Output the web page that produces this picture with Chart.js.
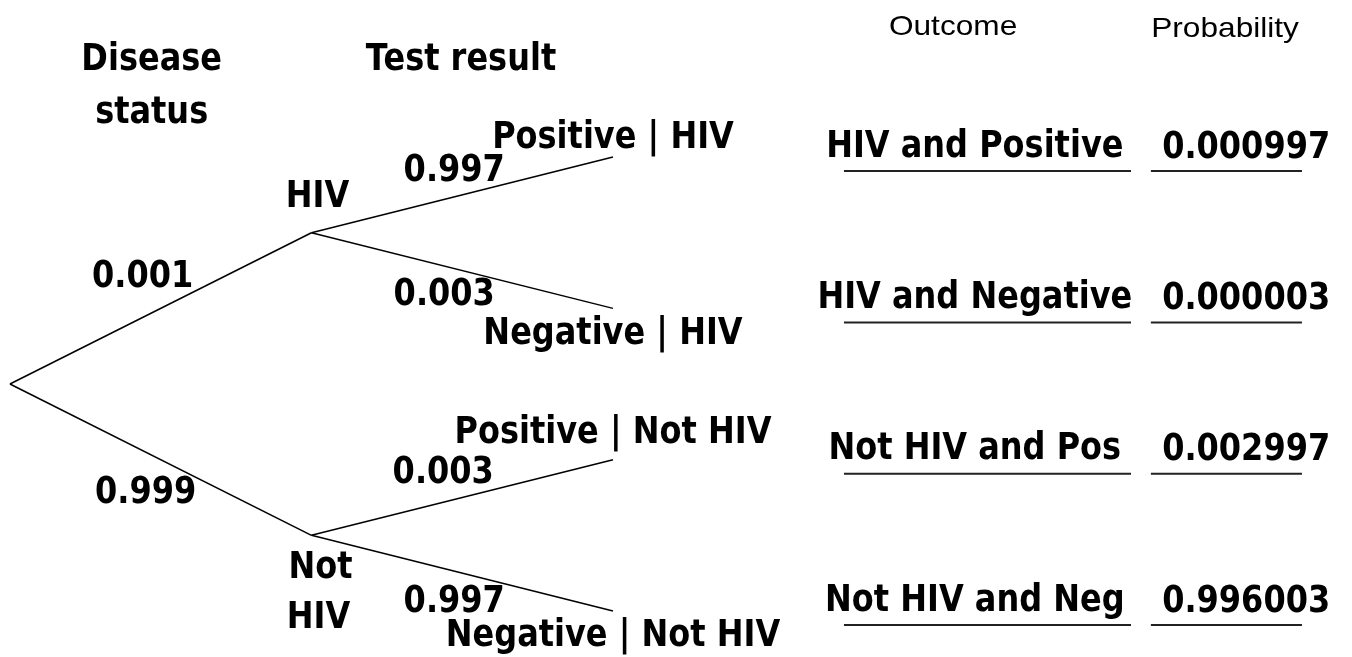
<!DOCTYPE html>
<html>
<head>
<meta charset="utf-8">
<script src="https://cdn.jsdelivr.net/npm/chart.js@4.4.0/dist/chart.umd.min.js"></script>
<style>
  html, body { margin: 0; padding: 0; background: #fff; }
  #wrap { width: 1352px; height: 657px; }
</style>
</head>
<body>
<div id="wrap"><canvas id="tree"></canvas></div>
<script>
// Data pohon probabilitas
const diseaseLabels = ['HIV', 'Not HIV'];
const diseaseProbs = ['0.001', '0.999'];
const testLabels = ['Positive | HIV', 'Negative | HIV', 'Positive | Not HIV', 'Negative | Not HIV'];
const testProbs = ['0.997', '0.003', '0.003', '0.997'];
const outcomeLabels = ['HIV and Positive', 'HIV and Negative', 'Not HIV and Pos', 'Not HIV and Neg'];
const jointProbs = ['0.000997', '0.000003', '0.002997', '0.996003'];

// Posisi node: x = kedalaman, y = indeks daun (rata-rata anak untuk node dalam)
const leafY = testLabels.map((_, i) => i);
const diseaseY = diseaseLabels.map((_, j) => (leafY[2 * j] + leafY[2 * j + 1]) / 2);
const rootY = (diseaseY[0] + diseaseY[1]) / 2;

const FONT = "'DejaVu Sans', sans-serif";
const HEAD_FONT = "'Liberation Sans', Arial, sans-serif";
const SIZE = 32;

function edge(x0, y0, x1, y1) {
    return {
        data: [{ x: x0, y: y0 }, { x: x1, y: y1 }],
        showLine: true,
        borderColor: '#000',
        borderWidth: 1.5,
        pointRadius: 0,
        fill: false
    };
}

const datasets = [];
diseaseY.forEach((y, j) => {
    datasets.push(edge(0, rootY, 1, y));
    datasets.push(edge(1, y, 2, leafY[2 * j]));
    datasets.push(edge(1, y, 2, leafY[2 * j + 1]));
});

// Teks dengan regangan (meniru huruf aslinya yang lebih tinggi)
function text(ctx, str, x, y, opts) {
    opts = opts || {};
    ctx.save();
    ctx.font = (opts.weight || 'bold') + ' ' + (opts.size || SIZE) + 'px ' + (opts.family || FONT);
    ctx.textAlign = 'center';
    ctx.textBaseline = 'middle';
    ctx.translate(x, y);
    ctx.scale(opts.sx || 1, opts.sy || 1.15);
    ctx.fillText(str, 0, 0);
    ctx.restore();
}

const labelPlugin = {
    id: 'treeLabels',
    afterDatasetsDraw(chart) {
        const ctx = chart.ctx;
        const xs = chart.scales.x, ys = chart.scales.y;
        const px = v => xs.getPixelForValue(v);
        const py = v => ys.getPixelForValue(v);
        ctx.save();
        ctx.fillStyle = '#000';

        // Judul kolom
        const head = { size: 28, weight: 'normal', family: HEAD_FONT, sx: 1.13, sy: 1 };
        text(ctx, 'Disease', px(0.47), 60);
        text(ctx, 'status', px(0.47), 113);
        text(ctx, 'Test result', px(1.496), 60);
        text(ctx, 'Outcome', px(3.128), 27, head);
        text(ctx, 'Probability', px(4.03), 29, head);

        // Label node status penyakit
        const n0 = { x: px(1), y: py(diseaseY[0]) };
        const n1 = { x: px(1), y: py(diseaseY[1]) };
        text(ctx, diseaseLabels[0], n0.x + 6, n0.y - 35);
        const parts = diseaseLabels[1].split(' ');
        text(ctx, parts[0], n1.x + 9, n1.y + 33);
        text(ctx, parts[1], n1.x + 7, n1.y + 83);

        // Probabilitas cabang pertama
        const rx = px(0), ry = py(rootY);
        text(ctx, diseaseProbs[0], (rx + n0.x) / 2 - 18, (ry + n0.y) / 2 - 31);
        text(ctx, diseaseProbs[1], (rx + n1.x) / 2 - 15, (ry + n1.y) / 2 + 34);

        // Cabang hasil tes
        const off = [[-8, -23], [-18, 25], [-19, -24], [-8, 29]];
        const lOff = [-19, 26, -26, 25];
        testLabels.forEach((lab, i) => {
            const parent = i < 2 ? n0 : n1;
            const lx = px(2), ly = py(leafY[i]);
            text(ctx, testProbs[i], (parent.x + lx) / 2 + off[i][0], (parent.y + ly) / 2 + off[i][1]);
            text(ctx, lab, lx, ly + lOff[i]);

            // Hasil dan probabilitas gabungan
            text(ctx, outcomeLabels[i], px(3.20), ly - 10);
            text(ctx, jointProbs[i], px(4.10), ly - 9);
            ctx.strokeStyle = '#222';
            ctx.lineWidth = 2;
            ctx.beginPath();
            ctx.moveTo(px(2.766), ly + 14);
            ctx.lineTo(px(3.718), ly + 14);
            ctx.moveTo(px(3.784), ly + 14);
            ctx.lineTo(px(4.285), ly + 14);
            ctx.stroke();
        });
        ctx.restore();
    }
};

new Chart(document.getElementById('tree'), {
    type: 'scatter',
    data: { datasets: datasets },
    options: {
        responsive: true,
        maintainAspectRatio: false,
        animation: false,
        layout: { padding: 0 },
        plugins: { legend: { display: false }, tooltip: { enabled: false } },
        scales: {
            x: { type: 'linear', display: false, min: -0.033, max: 4.451 },
            y: { type: 'linear', display: false, min: -1.038, max: 3.304, reverse: true }
        }
    },
    plugins: [labelPlugin]
});
</script>
</body>
</html>
